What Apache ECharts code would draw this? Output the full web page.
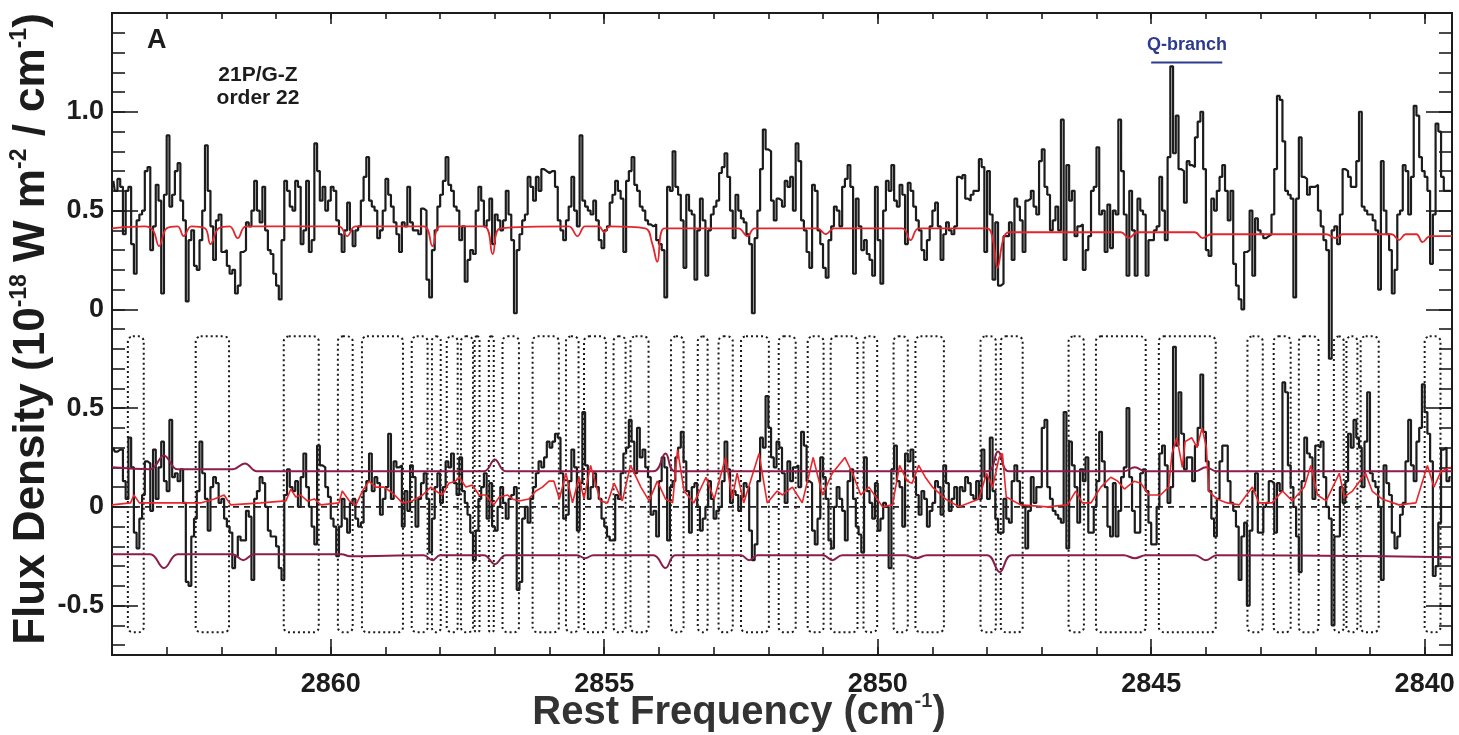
<!DOCTYPE html>
<html lang="en">
<head>
  <meta charset="utf-8">
  <title>21P/G-Z order 22</title>
  <script src="https://cdn.jsdelivr.net/npm/echarts@6/dist/echarts.min.js"></script>
  <style>
    * { margin: 0; padding: 0; }
    html, body { width: 100%; height: 100%; background: #fff; overflow: hidden; }
    #chart { width: 1459px; height: 735px; }
  </style>
</head>
<body>
  <div id="chart"></div>
  <script>
    // spectral bins: first bin centre and bin width (cm-1)
    var BIN0 = 2863.975;
    var BIN = 0.05;
    // top panel is drawn shifted up by one unit
    var TOP_SHIFT = 1.0;

    // observed flux, upper panel (one row per cm-1, left to right)
    var topSpec = [
      0.65,0.6,0.66,0.62,0.38,0.6,0.62,0.33,0.18,0.45,0.48,0.5,0.7,0.72,0.3,0.42,0.63,0.55,0.08,0.58,
      0.88,0.52,0.58,0.7,0.74,0.55,0.45,0.04,0.35,0.4,0.22,0.2,0.35,0.5,0.83,0.6,0.42,0.25,0.45,0.48,
      0.29,0.3,0.22,0.18,0.2,0.08,0.12,0.29,0.3,0.44,0.42,0.5,0.65,0.5,0.44,0.62,0.4,0.3,0.28,0.18,
      0.12,0.05,0.35,0.65,0.6,0.52,0.5,0.65,0.62,0.33,0.4,0.65,0.29,0.35,0.84,0.7,0.55,0.62,0.5,0.55,
      0.62,0.6,0.45,0.38,0.29,0.4,0.54,0.4,0.32,0.4,0.42,0.55,0.67,0.77,0.55,0.52,0.5,0.36,0.4,0.5,
      0.66,0.58,0.52,0.44,0.38,0.29,0.44,0.42,0.62,0.44,0.4,0.4,0.38,0.51,0.5,0.15,0.06,0.3,0.4,0.52,
      0.58,0.65,0.77,0.63,0.6,0.52,0.5,0.35,0.42,0.14,0.25,0.3,0.28,0.5,0.62,0.55,0.42,0.45,0.56,0.33,
      0.48,0.45,0.4,0.45,0.6,0.48,0.35,-0.02,0.3,0.38,0.45,0.48,0.67,0.62,0.55,0.67,0.6,0.71,0.7,0.69,
      0.7,0.7,0.62,0.45,0.4,0.35,0.45,0.52,0.67,0.5,0.42,0.88,0.55,0.52,0.5,0.48,0.55,0.45,0.35,0.31,
      0.4,0.42,0.54,0.58,0.65,0.6,0.56,0.29,0.65,0.7,0.77,0.63,0.6,0.52,0.5,0.45,0.43,0.42,0.43,0.35,
      0.33,0.3,0.06,0.62,0.6,0.8,0.62,0.58,0.45,0.21,0.58,0.5,0.48,0.15,0.4,0.56,0.45,0.17,0.4,0.48,
      0.52,0.55,0.69,0.72,0.79,0.67,0.5,0.36,0.58,0.5,0.46,0.44,0.38,0.33,-0.02,0.36,0.5,0.71,0.91,0.81,
      0.8,0.55,0.45,0.56,0.55,0.52,0.65,0.62,0.67,0.5,0.84,0.75,0.45,0.4,0.29,0.21,0.63,0.6,0.4,0.33,
      0.21,0.16,0.35,0.42,0.52,0.5,0.42,0.62,0.66,0.73,0.62,0.18,0.56,0.42,0.3,0.35,0.28,0.25,0.17,0.62,
      0.35,0.13,0.5,0.65,0.6,0.73,0.55,0.52,0.63,0.58,0.33,0.64,0.6,0.52,0.45,0.4,0.3,0.25,0.35,0.42,
      0.5,0.54,0.42,0.25,0.38,0.44,0.4,0.38,0.42,0.67,0.66,0.68,0.56,0.55,0.58,0.6,0.6,0.76,0.72,0.29,
      0.7,0.48,0.15,0.44,0.12,0.13,0.37,0.37,0.44,0.25,0.56,0.52,0.45,0.29,0.55,0.56,0.6,0.52,0.48,0.75,
      0.81,0.62,0.58,0.4,0.45,0.52,0.4,0.96,0.25,0.73,0.55,0.6,0.37,0.42,0.43,0.2,0.3,0.37,0.6,0.62,
      0.82,0.48,0.5,0.29,0.53,0.31,0.5,0.48,0.96,0.7,0.48,0.17,0.6,0.4,0.17,0.56,0.5,0.48,0.17,0.35,
      0.35,0.4,0.42,0.67,0.5,0.35,0.77,1.23,0.79,0.98,0.71,0.7,0.54,0.75,0.73,0.72,0.87,0.95,1.0,0.71,
      0.3,0.27,0.56,0.5,0.6,0.67,0.73,0.6,0.45,0.6,0.23,0.12,0.05,0.0,0.29,0.3,0.5,0.17,0.46,0.4,
      0.38,0.36,0.37,0.38,0.48,0.71,1.08,1.06,0.85,0.6,0.58,0.56,0.06,0.56,0.87,0.67,0.66,0.58,0.62,0.62,
      0.63,0.5,0.42,0.35,0.3,-0.25,0.4,0.42,0.33,0.48,0.71,0.7,0.67,0.62,0.62,0.75,1.0,0.52,0.5,0.48,
      0.48,0.45,0.4,0.1,0.75,0.5,0.38,0.3,0.08,0.2,0.48,0.5,0.73,0.7,0.48,0.67,1.03,0.98,0.77,0.7,
      0.67,0.6,0.23,0.48,0.94,0.9,0.67,0.6,0.6,0.6
    ];

    // residual flux, lower panel
    var resSpec = [
      0.3,0.28,0.29,0.29,0.13,0.04,0.35,0.2,-0.13,-0.21,-0.06,0.06,0.23,0.22,-0.02,0.29,0.04,0.2,0.33,0.13,
      0.08,0.44,0.15,0.17,0.13,0.19,0.02,-0.38,-0.4,-0.15,-0.06,0.08,0.33,0.17,0.04,-0.12,0.1,0.15,0.12,0.02,
      0.04,-0.06,-0.1,-0.13,-0.31,-0.25,-0.15,-0.17,-0.17,-0.02,-0.05,-0.37,0.04,0.08,0.15,0.12,0,-0.12,-0.15,-0.15,
      -0.2,-0.31,-0.37,0.06,0.19,0.1,0.08,0.13,0,0.15,0.27,0.1,0,-0.1,-0.19,0.31,0.21,0.2,0.1,0.05,
      -0.06,-0.1,-0.25,-0.1,0.04,-0.06,-0.13,0.02,0.04,-0.06,-0.1,-0.08,0.08,0.13,0.27,0.08,0.15,0.12,-0.04,0.04,
      0.1,0.37,0.04,0.23,0.2,0.21,-0.1,0.08,-0.02,0.21,0.15,-0.1,0.04,0.12,0.17,0.04,-0.23,-0.06,0.1,0.17,
      0.02,0.1,0.23,0.2,0.27,0.12,0.06,0.25,0.08,0.02,-0.04,-0.13,-0.27,-0.12,0.04,0.1,0.17,-0.06,0.12,-0.1,
      -0.12,0,0.1,0.02,-0.06,0.04,0.06,0.1,-0.42,-0.38,-0.06,0,-0.08,0.04,0.1,0.17,0.23,0.2,0.25,0.33,
      0.3,0.33,0.37,0.35,0.17,-0.06,-0.04,0.13,0.29,0.2,-0.12,0.12,0.48,0.21,0.04,0.1,0.17,0.1,0.04,-0.06,
      -0.1,-0.15,-0.17,-0.17,0.06,0.04,0.17,0.27,0.3,0.44,0.33,0.17,0.4,0.25,0.29,0.2,0.15,-0.04,-0.02,-0.15,
      0.13,0.25,0.2,-0.17,0.1,0.13,0.25,0.3,0.38,0.23,0.08,-0.13,0.1,0.12,0,-0.12,-0.06,0,0.13,0.04,
      -0.06,-0.02,0,0.13,0.33,0.19,0.02,0.08,0.06,-0.02,0.05,0.12,0.1,-0.12,-0.27,-0.19,0.13,0.35,0.3,0.56,
      0.4,0.25,0.2,0.33,0.3,0.17,0.02,0.23,0.13,0.2,0.21,0.1,0.38,0.31,0.13,0.12,-0.12,-0.19,-0.06,0.25,
      0.15,0.04,-0.17,-0.21,0,0.1,0.04,-0.02,-0.17,0.13,0.19,0.04,-0.1,-0.14,-0.23,0.25,0.08,0.02,-0.06,0.12,
      -0.12,-0.06,0.02,0,-0.31,0.19,0.31,0.13,0.1,-0.1,0.27,0.23,0.29,0.15,0.06,-0.04,0.08,0.04,-0.1,-0.02,
      0.02,0.13,0.1,-0.04,0.21,0.12,-0.02,0.04,0.1,0,0.1,0.08,0.15,0.12,0.06,0.04,0.13,0.04,0.29,0.15,
      0.04,0.35,0.08,-0.06,-0.13,-0.13,0.04,-0.06,-0.08,0.13,0.21,0.13,0.02,0,-0.21,-0.02,0.15,0.02,0.1,0.1,
      0.4,0.44,0.1,0.04,-0.02,-0.04,-0.06,-0.08,0.48,-0.21,0.33,0.21,0.1,-0.08,0.19,0.13,0.25,-0.13,-0.13,0,
      0.13,0.38,0.23,0.1,-0.1,-0.15,0.12,-0.15,-0.02,0.15,0.2,0.5,0.15,-0.02,-0.13,-0.13,0.17,0.19,0.08,-0.08,
      -0.19,-0.19,0,0.27,0.31,0.21,0.02,0.1,0.81,0.31,0.58,0.37,0.19,0.25,0.25,0.13,0.31,0.4,0.67,0.38,
      0.23,0.08,-0.06,-0.15,0.04,0.23,0.31,0.31,0.13,0.02,-0.02,-0.1,-0.37,-0.15,-0.08,-0.5,-0.12,0.08,0.17,-0.13,
      -0.13,0,0.02,0.13,0.12,-0.13,0.12,0.08,0.63,0.58,0.21,0.1,0,-0.15,-0.33,0.13,0.35,0.27,0.25,0.04,
      0.31,0.3,0.33,0.15,0,-0.06,-0.6,-0.15,-0.15,0.1,0.02,0.13,0.37,0.3,0.44,0.35,0.3,0.1,0.33,0.58,
      0.17,0.13,0.1,0,-0.37,0.21,0.12,0.06,-0.13,-0.21,-0.15,-0.04,0.02,0.23,0.44,0.21,0.13,0.33,0.4,0.62,
      0.48,0.37,0.23,-0.35,-0.3,-0.08,0.29,0.3,0.13,0.15
    ];

    // model continuum (upper panel), [freq, flux]
    var topModel = [
      [2864.0,0.41],[2863.4,0.42],[2863.25,0.40],[2863.14,0.32],[2863.0,0.41],[2862.8,0.42],[2862.69,0.37],
      [2862.55,0.42],[2862.3,0.41],[2862.2,0.33],[2862.05,0.41],[2861.85,0.42],[2861.7,0.36],[2861.55,0.42],
      [2859.85,0.42],[2859.7,0.37],[2859.55,0.42],[2858.3,0.42],[2858.14,0.32],[2858.0,0.42],[2857.2,0.42],
      [2857.04,0.28],[2856.9,0.41],[2855.65,0.42],[2855.49,0.37],[2855.35,0.42],[2855.1,0.42],[2855.0,0.39],
      [2854.9,0.42],[2854.25,0.41],[2854.12,0.33],[2854.03,0.24],[2853.9,0.41],[2852.55,0.41],[2852.38,0.37],
      [2852.25,0.41],[2851.1,0.41],[2850.95,0.38],[2850.8,0.41],[2849.55,0.41],[2849.4,0.35],[2849.25,0.41],
      [2848.0,0.41],[2847.9,0.36],[2847.81,0.21],[2847.7,0.36],[2847.6,0.39],[2845.55,0.39],[2845.41,0.36],
      [2845.25,0.39],[2844.2,0.39],[2844.06,0.36],[2843.9,0.38],[2841.8,0.38],[2841.63,0.36],[2841.5,0.38],
      [2840.6,0.38],[2840.47,0.35],[2840.35,0.38],[2840.15,0.38],[2840.04,0.34],[2839.9,0.37],[2839.5,0.37]
    ];

    // fluorescence model (lower panel), [freq, flux]
    var resModel = [
      [2864.0,0.01],[2863.66,0.02],[2863.6,0.06],[2863.5,0.02],[2862.38,0.02],[2862.13,0.04],[2861.95,0.06],
      [2861.83,0.01],[2861.28,0.02],[2860.82,0.03],[2860.73,0.09],[2860.64,0.05],[2860.55,0.06],[2860.43,0.03],
      [2860.3,0.04],[2860.18,0.01],[2859.85,0.02],[2859.79,0.08],[2859.66,0.03],[2859.54,0.01],[2859.42,0.08],
      [2859.3,0.13],[2859.18,0.1],[2859.03,0.1],[2858.87,0.07],[2858.69,0.02],[2858.51,0.03],[2858.32,0.06],
      [2858.17,0.1],[2858.08,0.08],[2857.96,0.06],[2857.84,0.12],[2857.72,0.13],[2857.65,0.15],[2857.53,0.1],
      [2857.41,0.11],[2857.29,0.06],[2857.17,0.06],[2857.11,0.04],[2857.02,0.01],[2856.92,0.05],[2856.77,0.06],
      [2856.68,0.04],[2856.56,0.03],[2856.38,0.04],[2856.25,0.08],[2856.13,0.1],[2856.01,0.13],[2855.92,0.13],
      [2855.82,0.04],[2855.7,0.17],[2855.58,0.02],[2855.46,0.15],[2855.37,0.04],[2855.25,0.21],[2855.07,0.03],
      [2854.94,0.02],[2854.82,0.12],[2854.67,0.03],[2854.52,0.21],[2854.33,0.1],[2854.18,0.03],[2854.03,0.13],
      [2853.88,0.04],[2853.75,0.02],[2853.66,0.29],[2853.54,0.08],[2853.36,0.02],[2853.14,0.15],[2852.99,0.04],
      [2852.78,0.25],[2852.66,0.04],[2852.57,0.17],[2852.45,0.02],[2852.17,0.27],[2852.02,0.02],[2851.84,0.08],
      [2851.74,0.06],[2851.56,0.1],[2851.38,0.02],[2851.18,0.25],[2851.01,0.06],[2850.83,0.17],[2850.6,0.25],
      [2850.46,0.17],[2850.31,0.06],[2850.16,0.1],[2849.91,0.0],[2849.73,0.01],[2849.6,0.21],[2849.46,0.13],
      [2849.37,0.12],[2849.25,0.21],[2849.13,0.15],[2849.0,0.1],[2848.76,0.04],[2848.51,0.0],[2848.15,0.04],
      [2848.01,0.17],[2847.9,0.1],[2847.78,0.25],[2847.72,0.27],[2847.65,0.05],[2847.39,0.01],[2846.9,0.0],
      [2846.53,0.01],[2846.38,0.08],[2846.26,0.02],[2846.1,0.02],[2845.92,0.1],[2845.74,0.15],[2845.61,0.13],
      [2845.49,0.09],[2845.31,0.13],[2845.19,0.12],[2845.04,0.06],[2844.83,0.06],[2844.68,0.1],[2844.62,0.27],
      [2844.53,0.35],[2844.43,0.2],[2844.38,0.33],[2844.26,0.35],[2844.16,0.3],[2844.07,0.4],[2843.99,0.3],
      [2843.95,0.08],[2843.8,0.04],[2843.61,0.02],[2843.39,0.01],[2843.15,0.1],[2843.03,0.02],[2842.79,0.02],
      [2842.6,0.08],[2842.42,0.03],[2842.2,0.1],[2842.08,0.21],[2841.96,0.06],[2841.8,0.03],[2841.56,0.17],
      [2841.47,0.05],[2841.32,0.08],[2841.08,0.17],[2840.96,0.08],[2840.78,0.04],[2840.47,0.01],[2840.16,0.02],
      [2839.95,0.21],[2839.83,0.1],[2839.7,0.18],[2839.52,0.2]
    ];

    // +/- noise envelope (lower panel)
    var envUpper = [
      [2864.0,0.2],[2863.3,0.19],[2863.05,0.26],[2862.8,0.19],[2861.8,0.19],[2861.57,0.22],[2861.35,0.18],
      [2857.2,0.18],[2857.0,0.24],[2856.8,0.18],[2854.1,0.18],[2853.88,0.27],[2853.7,0.18],[2848.0,0.18],
      [2847.8,0.28],[2847.6,0.18],[2845.5,0.18],[2845.3,0.2],[2845.1,0.18],[2844.2,0.18],[2844.0,0.2],
      [2843.8,0.18],[2839.5,0.18]
    ];
    var envLower = [
      [2864.0,-0.24],[2863.3,-0.24],[2863.05,-0.31],[2862.8,-0.24],[2861.8,-0.24],[2861.6,-0.27],[2861.4,-0.24],
      [2859.8,-0.24],[2859.65,-0.25],[2858.3,-0.245],[2858.14,-0.27],[2858.0,-0.245],[2857.2,-0.245],
      [2857.0,-0.29],[2856.8,-0.245],[2855.5,-0.245],[2855.35,-0.26],[2855.2,-0.245],[2854.1,-0.245],
      [2853.88,-0.31],[2853.7,-0.245],[2852.5,-0.245],[2852.35,-0.27],[2852.2,-0.245],[2851.0,-0.245],
      [2850.83,-0.27],[2850.65,-0.245],[2849.5,-0.245],[2849.3,-0.26],[2849.1,-0.245],[2848.0,-0.245],
      [2847.77,-0.33],[2847.55,-0.245],[2845.5,-0.245],[2845.3,-0.26],[2845.1,-0.245],[2844.2,-0.245],
      [2844.0,-0.27],[2843.8,-0.245],[2839.5,-0.255]
    ];

    // extraction windows (dotted boxes), [from, to] in cm-1
    var windows = [
      [2863.71,2863.42],[2862.47,2861.86],[2860.86,2860.22],[2859.87,2859.60],[2859.43,2858.68],
      [2858.52,2858.23],[2858.15,2857.99],[2857.88,2857.68],[2857.62,2857.40],[2857.37,2857.28],
      [2857.11,2857.02],[2856.86,2856.56],[2856.31,2855.83],[2855.70,2855.47],[2855.37,2854.97],
      [2854.83,2854.61],[2854.52,2854.19],[2853.78,2853.55],[2853.29,2853.11],[2852.91,2852.65],
      [2852.50,2851.99],[2851.81,2851.50],[2851.28,2850.99],[2850.86,2850.37],[2850.26,2850.01],
      [2849.71,2849.45],[2849.31,2848.79],[2848.12,2847.84],[2847.75,2847.35],[2846.51,2846.23],
      [2846.01,2845.10],[2844.86,2843.82],[2843.24,2842.96],[2842.76,2842.45],[2842.30,2841.94],
      [2841.66,2841.48],[2841.43,2841.23],[2841.17,2840.84],[2840.00,2839.71]
    ];
    var windowTop = 0.863;
    var windowBottom = -0.635;

    // Q-branch marker, [from, to] and level (upper panel units)
    var qBranch = [2845.0, 2843.7];
    var qLevel = 1.25;

    var xMajor = [2840, 2845, 2850, 2855, 2860];
    var yMajor = [-0.5, 0, 0.5, 1.0, 1.5, 2.0];

    var xMinor = [];
    for (var f = 2840; f <= 2864; f++) xMinor.push(f);
    var yMinor = [];
    for (var k = -7; k <= 25; k++) yMinor.push(k / 10);

    var FONT = '"Liberation Sans", "Helvetica Neue", Arial, sans-serif';
    var INK = '#1c1c1c';

    function bins(arr, shift) {
      return arr.map(function (v, i) {
        return [+(BIN0 - i * BIN).toFixed(3), v + shift];
      });
    }
    function shifted(arr, shift) {
      return arr.map(function (p) { return [p[0], p[1] + shift]; });
    }
    function yLabel(v) {
      var t = v > 0.75 ? v - TOP_SHIFT : v;
      if (Math.abs(t) < 1e-9) return '0';
      return t.toFixed(1);
    }

    function xAxisDef(pos, ticks, len, labels) {
      return {
        type: 'value', position: pos, inverse: true,
        min: 2839.5, max: 2864.0,
        axisLine: { show: true, onZero: false, lineStyle: { color: INK, width: 2 } },
        axisTick: { show: true, inside: true, length: len, customValues: ticks,
                    lineStyle: { color: INK, width: 1.6 } },
        axisLabel: labels ? { show: true, customValues: xMajor, margin: 16, color: INK,
                              fontFamily: FONT, fontWeight: 'bold', fontSize: 27,
                              formatter: function (v) { return String(v); } }
                          : { show: false },
        splitLine: { show: false }
      };
    }
    function yAxisDef(pos, ticks, len, labels) {
      return {
        type: 'value', position: pos,
        min: -0.75, max: 2.5,
        axisLine: { show: true, onZero: false, lineStyle: { color: INK, width: 2 } },
        axisTick: { show: true, inside: true, length: len, customValues: ticks,
                    lineStyle: { color: INK, width: 1.6 } },
        axisLabel: labels ? { show: true, customValues: yMajor, margin: 8, color: INK,
                              fontFamily: FONT, fontWeight: 'bold', fontSize: 27,
                              formatter: yLabel }
                          : { show: false },
        splitLine: { show: false }
      };
    }

    var chart = echarts.init(document.getElementById('chart'), null, { renderer: 'canvas' });

    var option = {
      backgroundColor: '#fff',
      animation: false,
      grid: { left: 112, right: 7, top: 13, bottom: 80 },
      xAxis: [
        xAxisDef('bottom', xMajor, 16, true),
        xAxisDef('bottom', xMinor, 8, false),
        xAxisDef('top', xMajor, 11, false),
        xAxisDef('top', xMinor, 6, false)
      ],
      yAxis: [
        yAxisDef('left', yMajor, 26, true),
        yAxisDef('left', yMinor, 13, false),
        yAxisDef('right', yMajor, 26, false),
        yAxisDef('right', yMinor, 13, false)
      ],
      series: [
        {
          type: 'custom',
          name: 'windows',
          z: 1,
          clip: true,
          data: windows.map(function (w) { return [w[0], w[1], windowTop, windowBottom]; }),
          encode: { x: [0, 1], y: [2, 3] },
          renderItem: function (params, api) {
            var a = api.coord([api.value(0), api.value(2)]);
            var b = api.coord([api.value(1), api.value(3)]);
            return {
              type: 'rect',
              shape: { x: Math.min(a[0], b[0]), y: a[1], width: Math.abs(b[0] - a[0]),
                       height: b[1] - a[1], r: 5 },
              style: { fill: 'none', stroke: '#1a1a1a', lineWidth: 2, lineDash: [2, 3] }
            };
          }
        },
        {
          type: 'line', name: 'zero', z: 2, symbol: 'none', silent: true,
          data: [[2864.0, 0], [2839.5, 0]],
          lineStyle: { color: '#222', width: 1.6, type: [6, 5] }
        },
        {
          type: 'line', name: 'observed', z: 3, symbol: 'none', step: 'middle',
          data: bins(topSpec, TOP_SHIFT),
          lineStyle: { color: INK, width: 2.2 }
        },
        {
          type: 'line', name: 'residual', z: 3, symbol: 'none', step: 'middle',
          data: bins(resSpec, 0),
          lineStyle: { color: INK, width: 2.2 }
        },
        {
          type: 'line', name: 'env+', z: 4, symbol: 'none', smooth: 0.4,
          data: envUpper, lineStyle: { color: '#8c1d48', width: 2 }
        },
        {
          type: 'line', name: 'env-', z: 4, symbol: 'none', smooth: 0.4,
          data: envLower, lineStyle: { color: '#8c1d48', width: 2 }
        },
        {
          type: 'line', name: 'continuum', z: 5, symbol: 'none', smooth: 0.4,
          data: shifted(topModel, TOP_SHIFT),
          lineStyle: { color: '#e3262b', width: 1.8 }
        },
        {
          type: 'line', name: 'model', z: 5, symbol: 'none',
          data: resModel,
          lineStyle: { color: '#e8262c', width: 1.6 }
        },
        {
          type: 'line', name: 'Q-branch', z: 5, symbol: 'none',
          data: [[qBranch[0], qLevel + TOP_SHIFT], [qBranch[1], qLevel + TOP_SHIFT]],
          lineStyle: { color: '#2d3b8e', width: 2 }
        }
      ],
      graphic: [
        {
          type: 'text', x: 147, y: 41,
          style: { text: 'A', fill: INK, font: 'bold 27px ' + FONT, verticalAlign: 'middle' }
        },
        {
          type: 'text', x: 258, y: 87,
          style: { text: '21P/G-Z\norder 22', fill: INK, font: 'bold 21px ' + FONT,
                   align: 'center', verticalAlign: 'middle', lineHeight: 23 }
        },
        {
          type: 'text', x: 1187, y: 45,
          style: { text: 'Q-branch', fill: '#2d3b8e', font: 'bold 18px ' + FONT,
                   align: 'center', verticalAlign: 'middle' }
        },
        {
          type: 'text', x: 32, y: 329, rotation: Math.PI / 2,
          style: {
            text: '{m|Flux Density (10}{s|-18}{m| W m}{s|-2}{m| / cm}{s|-1}{m|)}',
            align: 'center', verticalAlign: 'middle',
            rich: {
              m: { font: 'bold 44px ' + FONT, fill: INK, lineHeight: 48 },
              s: { font: 'bold 23px ' + FONT, fill: INK, lineHeight: 48, verticalAlign: 'top' }
            }
          }
        },
        {
          type: 'text', x: 739, y: 713,
          style: {
            text: '{m|Rest Frequency (cm}{s|-1}{m|)}',
            align: 'center', verticalAlign: 'middle',
            rich: {
              m: { font: 'bold 40px ' + FONT, fill: '#333', lineHeight: 44 },
              s: { font: 'bold 20px ' + FONT, fill: '#333', lineHeight: 44, verticalAlign: 'top' }
            }
          }
        }
      ]
    };

    chart.setOption(option);
  </script>
</body>
</html>
